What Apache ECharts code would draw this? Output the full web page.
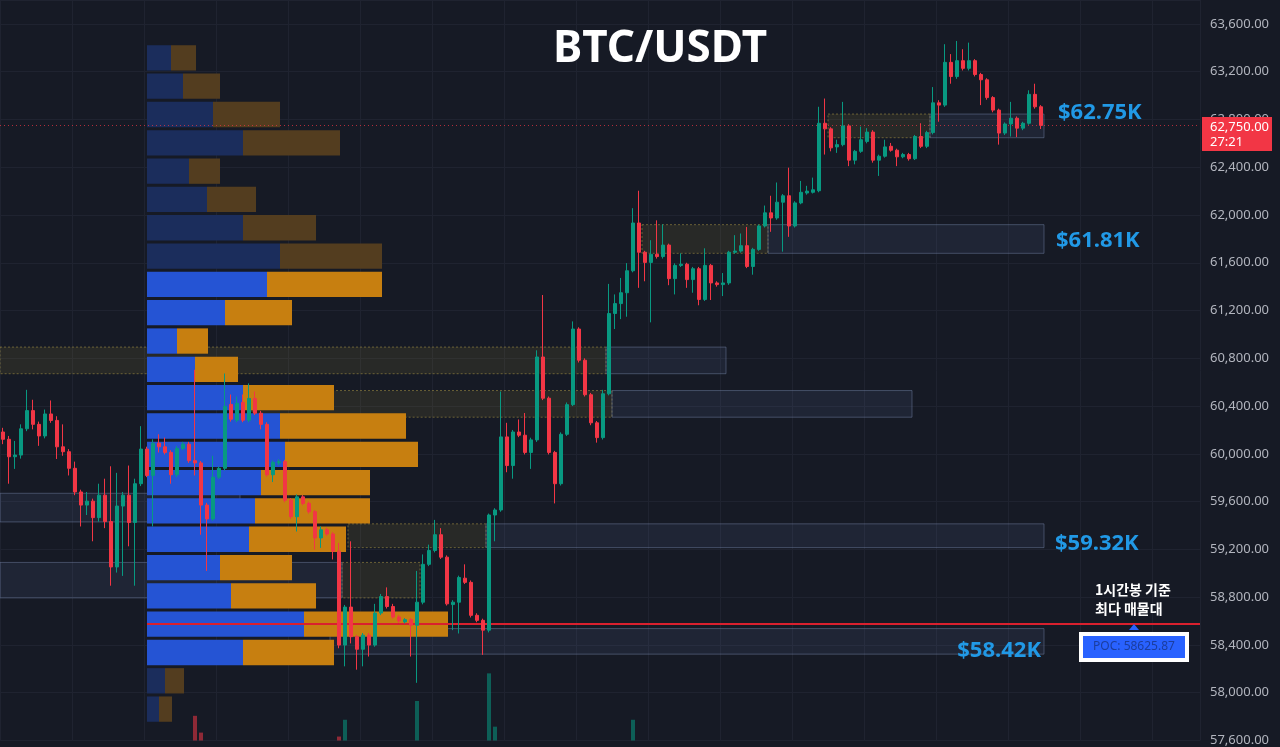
<!DOCTYPE html>
<html>
<head>
<meta charset="utf-8">
<title>BTC/USDT</title>
<script src="https://cdn.jsdelivr.net/npm/echarts@6/dist/echarts.min.js"></script>
<style>
  html, body { margin: 0; padding: 0; background: #161a25; }
  #chart { width: 1280px; height: 747px; }
</style>
</head>
<body>
<div id="chart"></div>
<script>
// 1h candles, oldest first
const opens = [
  60183, 60122, 59976, 59990, 60210, 60362, 60247, 60150, 60334, 60280,
  60059, 60018, 59879, 59681, 59571, 59604, 59466, 59654, 59433, 59053,
  59563, 59654, 59425, 59750, 60040, 59819, 60089, 60059, 60012, 59825,
  60045, 60081, 59943, 59924, 59571, 59455, 59805, 59879, 60414, 60282,
  60431, 60282, 60464, 60340, 60247, 59825, 59924, 59935, 59612, 59474,
  59640, 59585, 59516, 59296, 59364, 59329, 59185, 58399, 58717, 58469,
  58364, 58482, 58399, 58667, 58805, 58722, 58634, 58593, 58612, 58565,
  58758, 59075, 59191, 59323, 59135, 58738, 58758, 58959, 58924, 58648,
  58606, 58524, 59488, 59530, 60142, 59902, 60183, 60156, 60012, 60117,
  60811, 60466, 60012, 59750, 60164, 60412, 61045, 60784, 60495, 60260,
  60136, 60503, 61175, 61258, 61349, 61533, 61933, 61688, 61603, 61671,
  61652, 61748, 61467, 61578, 61588, 61459, 61550, 61293, 61578, 61431,
  61417, 61431, 61688, 61698, 61743, 61569, 61712, 61908, 62018, 61975,
  62107, 62161, 61908, 62101, 62184, 62190, 62203, 62768, 62721, 62570,
  62589, 62746, 62459, 62533, 62616, 62694, 62459, 62492, 62575, 62542,
  62487, 62506, 62471, 62657, 62575, 62690, 62939, 62920, 63278, 63159,
  63292, 63228, 63292, 63176, 63132, 62983, 62878, 62686, 62762, 62810,
  62727, 62768, 63010, 62906
];
const closes = [
  60122, 59976, 59990, 60210, 60362, 60247, 60150, 60334, 60280, 60059,
  60018, 59879, 59681, 59571, 59604, 59466, 59654, 59433, 59053, 59563,
  59654, 59425, 59750, 60040, 59819, 60089, 60059, 60012, 59825, 60045,
  60081, 59943, 59924, 59571, 59455, 59805, 59879, 60398, 60290, 60423,
  60282, 60464, 60340, 60247, 59825, 59929, 59935, 59612, 59474, 59640,
  59585, 59516, 59296, 59364, 59329, 59185, 58399, 58717, 58469, 58364,
  58482, 58399, 58667, 58805, 58722, 58634, 58601, 58612, 58565, 58758,
  59075, 59191, 59323, 59135, 58744, 58758, 58965, 58924, 58648, 58606,
  58524, 59488, 59530, 60142, 59902, 60183, 60156, 60012, 60117, 60811,
  60466, 60012, 59750, 60164, 60412, 61045, 60784, 60495, 60260, 60136,
  60503, 61175, 61258, 61349, 61533, 61933, 61688, 61603, 61671, 61652,
  61748, 61467, 61578, 61588, 61459, 61550, 61293, 61578, 61431, 61417,
  61431, 61688, 61698, 61743, 61569, 61712, 61908, 62018, 61975, 62107,
  62161, 61908, 62101, 62190, 62200, 62211, 62768, 62721, 62562, 62589,
  62746, 62459, 62533, 62630, 62694, 62459, 62492, 62570, 62542, 62487,
  62506, 62471, 62657, 62575, 62690, 62939, 62920, 63278, 63159, 63292,
  63228, 63292, 63176, 63132, 62983, 62878, 62686, 62762, 62810, 62727,
  62768, 63010, 62906, 62750
];
const lows = [
  60081, 59750, 59874, 59960, 60190, 60205, 60067, 60130, 60260, 59957,
  59984, 59819, 59654, 59392, 59488, 59268, 59433, 59378, 58896, 59006,
  58978, 59226, 58896, 59730, 59805, 59392, 60012, 59995, 59750, 59805,
  60030, 59925, 59819, 59323, 59020, 59440, 59790, 59860, 60270, 60265,
  60265, 60265, 60325, 60205, 59810, 59764, 59905, 59595, 59455, 59350,
  59570, 59500, 59199, 59213, 59315, 59116, 58372, 58221, 58413, 58193,
  58221, 58303, 58385, 58650, 58705, 58620, 58585, 58580, 58303, 58083,
  58740, 59060, 59175, 59120, 58730, 58524, 58496, 58910, 58630, 58590,
  58317, 58505, 59268, 59515, 59846, 59792, 60140, 59995, 59874, 60100,
  60450, 59995, 59585, 59735, 60150, 60400, 60765, 60480, 60240, 60094,
  60120, 60490, 61045, 61128, 61148, 61520, 61390, 61445, 61101, 61635,
  61635, 61412, 61335, 61565, 61390, 61349, 61244, 61280, 61288, 61400,
  61321, 61415, 61675, 61685, 61555, 61500, 61700, 61895, 61859, 61960,
  61693, 61817, 61895, 62090, 62170, 62180, 62190, 62506, 62533, 62520,
  62575, 62409, 62424, 62520, 62600, 62438, 62327, 62480, 62530, 62409,
  62475, 62455, 62460, 62560, 62560, 62675, 62781, 62905, 63099, 63140,
  63210, 63210, 63160, 62920, 62965, 62860, 62589, 62670, 62657, 62652,
  62710, 62755, 62890, 62720
];
const highs = [
  60218, 60150, 60108, 60247, 60536, 60453, 60270, 60371, 60447, 60315,
  60247, 60040, 59935, 59700, 59681, 59625, 59750, 59792, 59896, 59841,
  59681, 59902, 59792, 60232, 60060, 60122, 60164, 60136, 60030, 60065,
  60100, 60100, 60704, 59940, 59590, 59984, 59895, 60673, 60497, 60480,
  60497, 60590, 60522, 60360, 60265, 59945, 59955, 59950, 59630, 59660,
  59655, 59600, 59530, 59392, 59380, 59345, 59254, 58735, 59268, 58485,
  58500, 58500, 58744, 58827, 58882, 58744, 58650, 58625, 58625, 59020,
  59158, 59240, 59447, 59378, 59150, 58775, 58980, 59075, 58940, 58665,
  58620, 59500, 59545, 60522, 60260, 60200, 60288, 60342, 60135, 60867,
  61330, 60480, 60025, 60180, 60430, 61109, 61060, 60800, 60510, 60275,
  60536, 61423, 61335, 61473, 61597, 62057, 62203, 61700, 61789, 61955,
  61922, 61760, 61595, 61679, 61600, 61565, 61565, 61721, 61590, 61445,
  61514, 61700, 61831, 61845, 61900, 61725, 61920, 62079, 62161, 62272,
  62175, 62396, 62115, 62285, 62244, 62313, 62906, 62975, 62735, 62630,
  62947, 62760, 62545, 62740, 62727, 62710, 62505, 62630, 62603, 62555,
  62520, 62520, 62670, 62768, 62705, 63071, 62961, 63430, 63347, 63457,
  63388, 63443, 63305, 63190, 63145, 62995, 62890, 62775, 62947, 62825,
  62780, 63044, 63099, 62920
];
// only the volume spikes that reach into the visible area: [candle index, volume]
const volumeSpikes = [[32, 250], [33, 80], [56, 40], [57, 210], [69, 400], [81, 680], [82, 140], [105, 210]];

// hourly slots, the empty ones on the right are the future space
const slots = Array.from({ length: 200 }, (_, i) => 'H' + i);

// volume profile, 24 price bins (bottom of each bin), buy and sell volume
const profileBin = 235;
const profileLows = [
  63202, 62967, 62732, 62497, 62262, 62027, 61792, 61557, 61322, 61087, 60852, 60617,
  60382, 60147, 59912, 59677, 59442, 59207, 58972, 58737, 58502, 58267, 58032, 57797
];
const profileBuy = [24, 36, 66, 96, 42, 60, 96, 133, 120, 78, 30, 48, 96, 133, 138, 114, 108, 102, 73, 84, 157, 96, 18, 12];
const profileSell = [25, 37, 67, 97, 31, 49, 73, 102, 115, 67, 31, 43, 91, 126, 133, 109, 115, 97, 72, 85, 144, 91, 19, 13];
const valueAreaLow = 58267;
const valueAreaHigh = 61557;
const poc = 58625.87;
const lastPrice = 62750;

// zones: [from candle, to candle, low, high]
const zonesOlive = [
  [0, 101, 60671, 60894], [42, 102, 60307, 60530], [107, 128, 61679, 61919],
  [138, 155, 62647, 62845], [58, 81, 59215, 59414], [57, 70, 58794, 59091]
];
const zonesBlue = [
  [101, 121, 60671, 60894], [102, 152, 60307, 60530], [128, 174, 61679, 61919],
  [155, 174, 62647, 62845], [81, 174, 59215, 59414], [55, 174, 58323, 58537],
  [0, 57, 58794, 59091], [0, 40, 59430, 59670]
];

const UP = '#089981';
const DOWN = '#f23645';
const LABEL_BLUE = '#2199e6';
const priceMin = 57600;
const priceMax = 63800;

function zoneRenderer(fill, stroke, dash) {
  return function (params, api) {
    const half = api.size([1, 0])[0] / 2;
    const a = api.coord([api.value(0), api.value(3)]);
    const b = api.coord([api.value(1), api.value(2)]);
    return {
      type: 'rect',
      shape: { x: a[0] - half, y: a[1], width: b[0] - a[0], height: b[1] - a[1] },
      style: { fill: fill, stroke: stroke, lineWidth: 1, lineDash: dash }
    };
  };
}

function renderProfile(params, api) {
  const low = api.value(0);
  const buy = api.value(1);
  const sell = api.value(2);
  const inside = api.value(3) === 1;
  const top = api.coord([0, low + profileBin]);
  const bottom = api.coord([0, low]);
  const xBuy = api.coord([buy, low])[0];
  const xEnd = api.coord([buy + sell, low])[0];
  const y = top[1] + 1.5;
  const h = bottom[1] - top[1] - 3;
  return {
    type: 'group',
    children: [
      { type: 'rect', shape: { x: top[0], y: y, width: xBuy - top[0], height: h },
        style: { fill: inside ? '#2554d4' : '#1b2d5c' } },
      { type: 'rect', shape: { x: xBuy, y: y, width: xEnd - xBuy, height: h },
        style: { fill: inside ? '#c77f10' : '#533d1f' } }
    ]
  };
}

const fmt = v => v.toLocaleString('en-US', { minimumFractionDigits: 2, maximumFractionDigits: 2 });

const option = {
  backgroundColor: '#161a25',
  animation: false,
  grid: [
    { left: 0, right: 80, top: -2, bottom: -1 },
    { left: 147, right: 80, top: -2, bottom: -1 }
  ],
  xAxis: [
    {
      type: 'category',
      gridIndex: 0,
      data: slots,
      axisLine: { show: false },
      axisTick: { show: false },
      axisLabel: { show: false },
      splitLine: { show: true, interval: 11, lineStyle: { color: '#1f2330' } }
    },
    { type: 'value', gridIndex: 1, min: 0, max: 1053, show: false }
  ],
  yAxis: [
    {
      type: 'value',
      gridIndex: 0,
      position: 'right',
      min: priceMin,
      max: priceMax,
      interval: 400,
      axisLine: { show: false },
      axisTick: { show: false },
      axisLabel: {
        color: '#b2b5be',
        fontSize: 13,
        fontFamily: 'Noto Sans',
        margin: 10,
        showMaxLabel: false,
        formatter: fmt
      },
      splitLine: { lineStyle: { color: '#1f2330' } }
    },
    { type: 'value', gridIndex: 1, min: priceMin, max: priceMax, show: false },
    { type: 'value', gridIndex: 0, min: 0, max: 7500, show: false }
  ],
  series: [
    {
      type: 'custom',
      name: 'olive zones',
      xAxisIndex: 0,
      yAxisIndex: 0,
      z: 1,
      encode: { x: [0, 1], y: [2, 3] },
      renderItem: zoneRenderer('rgba(170,160,60,0.12)', 'rgba(170,150,70,0.55)', [2, 2]),
      data: zonesOlive,
      silent: true
    },
    {
      type: 'custom',
      name: 'blue zones',
      xAxisIndex: 0,
      yAxisIndex: 0,
      z: 1,
      encode: { x: [0, 1], y: [2, 3] },
      renderItem: zoneRenderer('rgba(100,120,175,0.12)', 'rgba(110,125,160,0.5)', null),
      data: zonesBlue,
      silent: true
    },
    {
      type: 'line',
      name: 'POC',
      xAxisIndex: 1,
      yAxisIndex: 1,
      z: 2,
      data: [],
      markLine: {
        silent: true,
        symbol: 'none',
        label: { show: false },
        lineStyle: { color: '#d9202e', width: 2, type: 'solid' },
        data: [{ yAxis: poc }]
      }
    },
    {
      type: 'custom',
      name: 'volume profile',
      xAxisIndex: 1,
      yAxisIndex: 1,
      z: 3,
      encode: { x: [1, 2], y: 0 },
      renderItem: renderProfile,
      data: profileLows.map((low, k) => [low, profileBuy[k], profileSell[k],
        low >= valueAreaLow && low < valueAreaHigh ? 1 : 0]),
      silent: true
    },
    {
      type: 'bar',
      name: 'volume',
      xAxisIndex: 0,
      yAxisIndex: 2,
      z: 3,
      barWidth: 4,
      data: volumeSpikes.map(([i, v]) => ({
        value: [i, v],
        itemStyle: { color: closes[i] >= opens[i] ? 'rgba(8,153,129,0.55)' : 'rgba(242,54,69,0.55)' }
      }))
    },
    {
      type: 'candlestick',
      name: 'BTC/USDT',
      xAxisIndex: 0,
      yAxisIndex: 0,
      z: 5,
      barWidth: 4,
      data: closes.map((c, i) => [opens[i], c, lows[i], highs[i]]),
      itemStyle: { color: UP, color0: DOWN, borderColor: UP, borderColor0: DOWN, borderWidth: 1 },
      markLine: {
        silent: true,
        symbol: 'none',
        label: { show: false },
        lineStyle: { color: 'rgba(242,54,69,0.7)', width: 1, type: [1, 3] },
        data: [{ yAxis: lastPrice }]
      }
    }
  ],
  graphic: [
    { type: 'text', x: 660, y: 49, z: 100,
      style: { text: 'BTC/USDT', fill: '#ffffff', font: 'bold 44px "Noto Sans"', align: 'center', verticalAlign: 'middle' } },
    { type: 'text', x: 1058, y: 113, z: 100,
      style: { text: '$62.75K', fill: LABEL_BLUE, font: 'bold 22px "Noto Sans"', verticalAlign: 'middle' } },
    { type: 'text', x: 1056, y: 241, z: 100,
      style: { text: '$61.81K', fill: LABEL_BLUE, font: 'bold 22px "Noto Sans"', verticalAlign: 'middle' } },
    { type: 'text', x: 1055, y: 544, z: 100,
      style: { text: '$59.32K', fill: LABEL_BLUE, font: 'bold 22px "Noto Sans"', verticalAlign: 'middle' } },
    { type: 'text', x: 1041, y: 651, z: 100,
      style: { text: '$58.42K', fill: LABEL_BLUE, font: 'bold 22px "Noto Sans"', align: 'right', verticalAlign: 'middle' } },
    { type: 'rect', z: 100, shape: { x: 1202, y: 117, width: 70, height: 34 }, style: { fill: '#f23645' } },
    { type: 'text', x: 1210, y: 127, z: 101,
      style: { text: fmt(lastPrice), fill: '#ffffff', font: '13px "Noto Sans"', verticalAlign: 'middle' } },
    { type: 'text', x: 1210, y: 142, z: 101,
      style: { text: '27:21', fill: '#ffffff', font: '13px "Noto Sans"', verticalAlign: 'middle' } },
    { type: 'text', x: 1095, y: 590, z: 100,
      style: { text: '1시간봉 기준', fill: '#ffffff', font: 'bold 14px "Noto Sans CJK KR"', verticalAlign: 'middle' } },
    { type: 'text', x: 1095, y: 609, z: 100,
      style: { text: '최다 매물대', fill: '#ffffff', font: 'bold 14px "Noto Sans CJK KR"', verticalAlign: 'middle' } },
    { type: 'polygon', z: 100, shape: { points: [[1129, 630], [1139, 630], [1134, 624]] }, style: { fill: '#2962ff' } },
    { type: 'rect', z: 100, shape: { x: 1079, y: 632, width: 110, height: 30 }, style: { fill: '#ffffff' } },
    { type: 'rect', z: 101, shape: { x: 1083, y: 636, width: 102, height: 22 }, style: { fill: '#2962ff' } },
    { type: 'text', x: 1134, y: 647, z: 102,
      style: { text: 'POC: ' + poc.toFixed(2), fill: '#1b3d9e', font: '12px "Noto Sans"', align: 'center', verticalAlign: 'middle' } }
  ]
};

const chart = echarts.init(document.getElementById('chart'));
chart.setOption(option);
</script>
</body>
</html>
